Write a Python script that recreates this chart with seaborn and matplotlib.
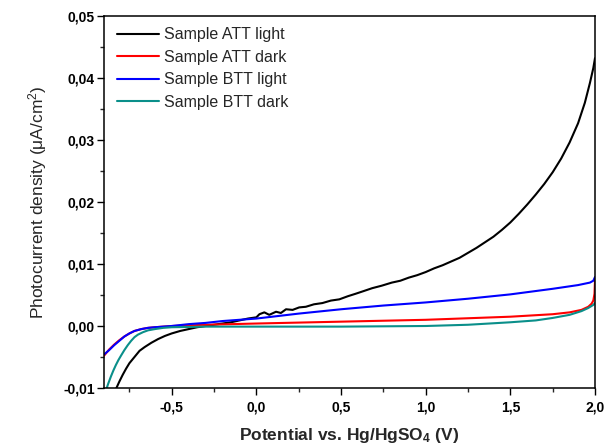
import matplotlib
matplotlib.use("Agg")
import matplotlib.pyplot as plt
import seaborn as sns
import pandas as pd
from matplotlib.ticker import FixedLocator, FixedFormatter, MultipleLocator

# ---- data ----
series_names = ["Sample ATT light", "Sample ATT dark", "Sample BTT light", "Sample BTT dark"]
series_colors = ["#000000", "#ff0000", "#0000ff", "#0a8f8a"]

att_light_v = [-0.835, -0.81, -0.79, -0.77, -0.75, -0.72, -0.69, -0.66, -0.62, -0.58,
               -0.54, -0.50, -0.45, -0.40, -0.35, -0.30, -0.25, -0.20, -0.15, -0.10,
               -0.05, 0.0, 0.018, 0.047, 0.076, 0.116, 0.145, 0.175, 0.214, 0.253,
               0.292, 0.34, 0.39, 0.44, 0.49, 0.54, 0.586, 0.63, 0.684, 0.74,
               0.80, 0.85, 0.90, 0.95, 1.00, 1.05, 1.10, 1.15, 1.20, 1.25,
               1.30, 1.35, 1.40, 1.45, 1.50, 1.55, 1.60, 1.65, 1.70, 1.75,
               1.80, 1.85, 1.90, 1.94, 1.97, 1.99, 2.0]
att_light_j = [-0.0105, -0.0090, -0.0079, -0.0069, -0.0060, -0.0050, -0.0040, -0.0034, -0.0027, -0.0021,
               -0.0016, -0.0012, -0.0008, -0.0005, -0.0002, 0.0000, 0.0002, 0.0004, 0.0006, 0.0009,
               0.0012, 0.0014, 0.0019, 0.0022, 0.0018, 0.0023, 0.0021, 0.0027, 0.0026, 0.0030,
               0.0031, 0.0035, 0.0037, 0.0041, 0.0043, 0.0048, 0.0052, 0.0056, 0.0061, 0.0065,
               0.0070, 0.0073, 0.0078, 0.0082, 0.0087, 0.0093, 0.0098, 0.0104, 0.0110, 0.0118,
               0.0126, 0.0135, 0.0144, 0.0155, 0.0167, 0.0181, 0.0196, 0.0212, 0.0229, 0.0248,
               0.0270, 0.0296, 0.0327, 0.0360, 0.0392, 0.0416, 0.0432]

att_dark_v = [-0.90, -0.87, -0.84, -0.81, -0.78, -0.75, -0.72, -0.68, -0.64, -0.60,
              -0.55, -0.50, -0.30, 0.0, 0.5, 1.0, 1.5, 1.75, 1.85, 1.92,
              1.96, 1.98, 1.99, 1.997, 2.0]
att_dark_j = [-0.0048, -0.0038, -0.0030, -0.0023, -0.0017, -0.0012, -0.0008, -0.0005, -0.0003, -0.0002,
              -0.0001, 0.0, 0.0002, 0.0004, 0.0007, 0.0010, 0.0015, 0.0019, 0.0022, 0.0026,
              0.0031, 0.0036, 0.0041, 0.0052, 0.0074]

btt_light_v = [-0.90, -0.87, -0.84, -0.81, -0.78, -0.75, -0.72, -0.68, -0.64, -0.60,
               -0.55, -0.50, -0.40, -0.30, -0.20, -0.10, 0.0, 0.25, 0.50, 0.75,
               1.0, 1.25, 1.5, 1.75, 1.90, 1.97, 1.99, 2.0]
btt_light_j = [-0.0046, -0.0039, -0.0031, -0.0024, -0.0017, -0.0012, -0.0008, -0.0005, -0.0003, -0.0002,
               -0.0001, 0.0, 0.0003, 0.0005, 0.0008, 0.0010, 0.0012, 0.0020, 0.0027, 0.0033,
               0.0038, 0.0044, 0.0051, 0.0060, 0.0066, 0.0070, 0.0073, 0.0079]

btt_dark_v = [-0.89, -0.875, -0.86, -0.845, -0.83, -0.815, -0.80, -0.78, -0.76, -0.74,
              -0.72, -0.70, -0.67, -0.64, -0.60, -0.55, -0.50, -0.30, 0.0, 0.5,
              1.0, 1.25, 1.5, 1.65, 1.75, 1.85, 1.92, 1.96, 1.99, 2.0]
btt_dark_j = [-0.0105, -0.0093, -0.0082, -0.0072, -0.0063, -0.0055, -0.0048, -0.0039, -0.0031, -0.0024,
              -0.0018, -0.0014, -0.0010, -0.0007, -0.0005, -0.0003, -0.0002, -0.0001, -0.0001, -0.0001,
              0.0, 0.0002, 0.0006, 0.0009, 0.0013, 0.0018, 0.0024, 0.0029, 0.0034, 0.0037]

x_ticks = [-0.5, 0.0, 0.5, 1.0, 1.5, 2.0]
x_tick_labels = ["-0,5", "0,0", "0,5", "1,0", "1,5", "2,0"]
y_ticks = [-0.01, 0.0, 0.01, 0.02, 0.03, 0.04, 0.05]
y_tick_labels = ["-0,01", "0,00", "0,01", "0,02", "0,03", "0,04", "0,05"]

x_label = r"Potential vs. Hg/HgSO$_\mathbf{4}$ (V)"
y_label = r"Photocurrent density ($\mathrm{\mu}$A/cm$^2$)"

# ---- build long table ----
frames = []
for name, v, j in zip(series_names,
                      [att_light_v, att_dark_v, btt_light_v, btt_dark_v],
                      [att_light_j, att_dark_j, btt_light_j, btt_dark_j]):
    frames.append(pd.DataFrame({"v": v, "j": j, "series": name}))
df = pd.concat(frames, ignore_index=True)

sns.set_style("white")
plt.rcParams["font.family"] = ["Liberation Sans", "DejaVu Sans"]
plt.rcParams["mathtext.fontset"] = "custom"
plt.rcParams["mathtext.rm"] = "Liberation Sans"
plt.rcParams["mathtext.it"] = "Liberation Sans:italic"
plt.rcParams["mathtext.bf"] = "Liberation Sans:bold"

fig = plt.figure(figsize=(6.06, 4.44), dpi=100)
ax = fig.add_axes([104 / 606, 56 / 444, 491 / 606, 372 / 444])

sns.lineplot(data=df, x="v", y="j", hue="series", hue_order=series_names,
             palette=dict(zip(series_names, series_colors)), estimator=None,
             sort=False, linewidth=1.5, ax=ax)

ax.set_xlim(-0.9, 2.0)
ax.set_ylim(-0.01, 0.05)

ax.xaxis.set_major_locator(FixedLocator(x_ticks))
ax.xaxis.set_major_formatter(FixedFormatter(x_tick_labels))
ax.xaxis.set_minor_locator(MultipleLocator(0.25))
ax.yaxis.set_major_locator(FixedLocator(y_ticks))
ax.yaxis.set_major_formatter(FixedFormatter(y_tick_labels))
ax.yaxis.set_minor_locator(MultipleLocator(0.005))

ax.tick_params(axis="both", which="major", direction="out", length=5, width=1.0,
               colors="black", labelsize=10, bottom=True, left=True, top=False, right=False)
ax.tick_params(axis="both", which="minor", direction="out", length=3, width=1.0,
               bottom=True, left=True, top=False, right=False)
ax.tick_params(axis="x", which="major", pad=4)
ax.tick_params(axis="y", which="major", pad=1.5)
for lab in ax.get_xticklabels() + ax.get_yticklabels():
    lab.set_fontweight("bold")

for sp in ax.spines.values():
    sp.set_visible(True)
    sp.set_color("black")
    sp.set_linewidth(1.1)

ax.set_xlabel(x_label, fontsize=12.5, fontweight="bold", labelpad=8)
ax.set_ylabel(y_label, fontsize=12.5, labelpad=10)

leg = ax.legend(loc="upper left", bbox_to_anchor=(0.026, 0.970), frameon=False,
                fontsize=11.5, handlelength=2.66, handletextpad=0.3, labelspacing=0.47,
                borderpad=0, borderaxespad=0)
for line in leg.get_lines():
    line.set_linewidth(1.5)

fig.savefig("out.png", dpi=100)
